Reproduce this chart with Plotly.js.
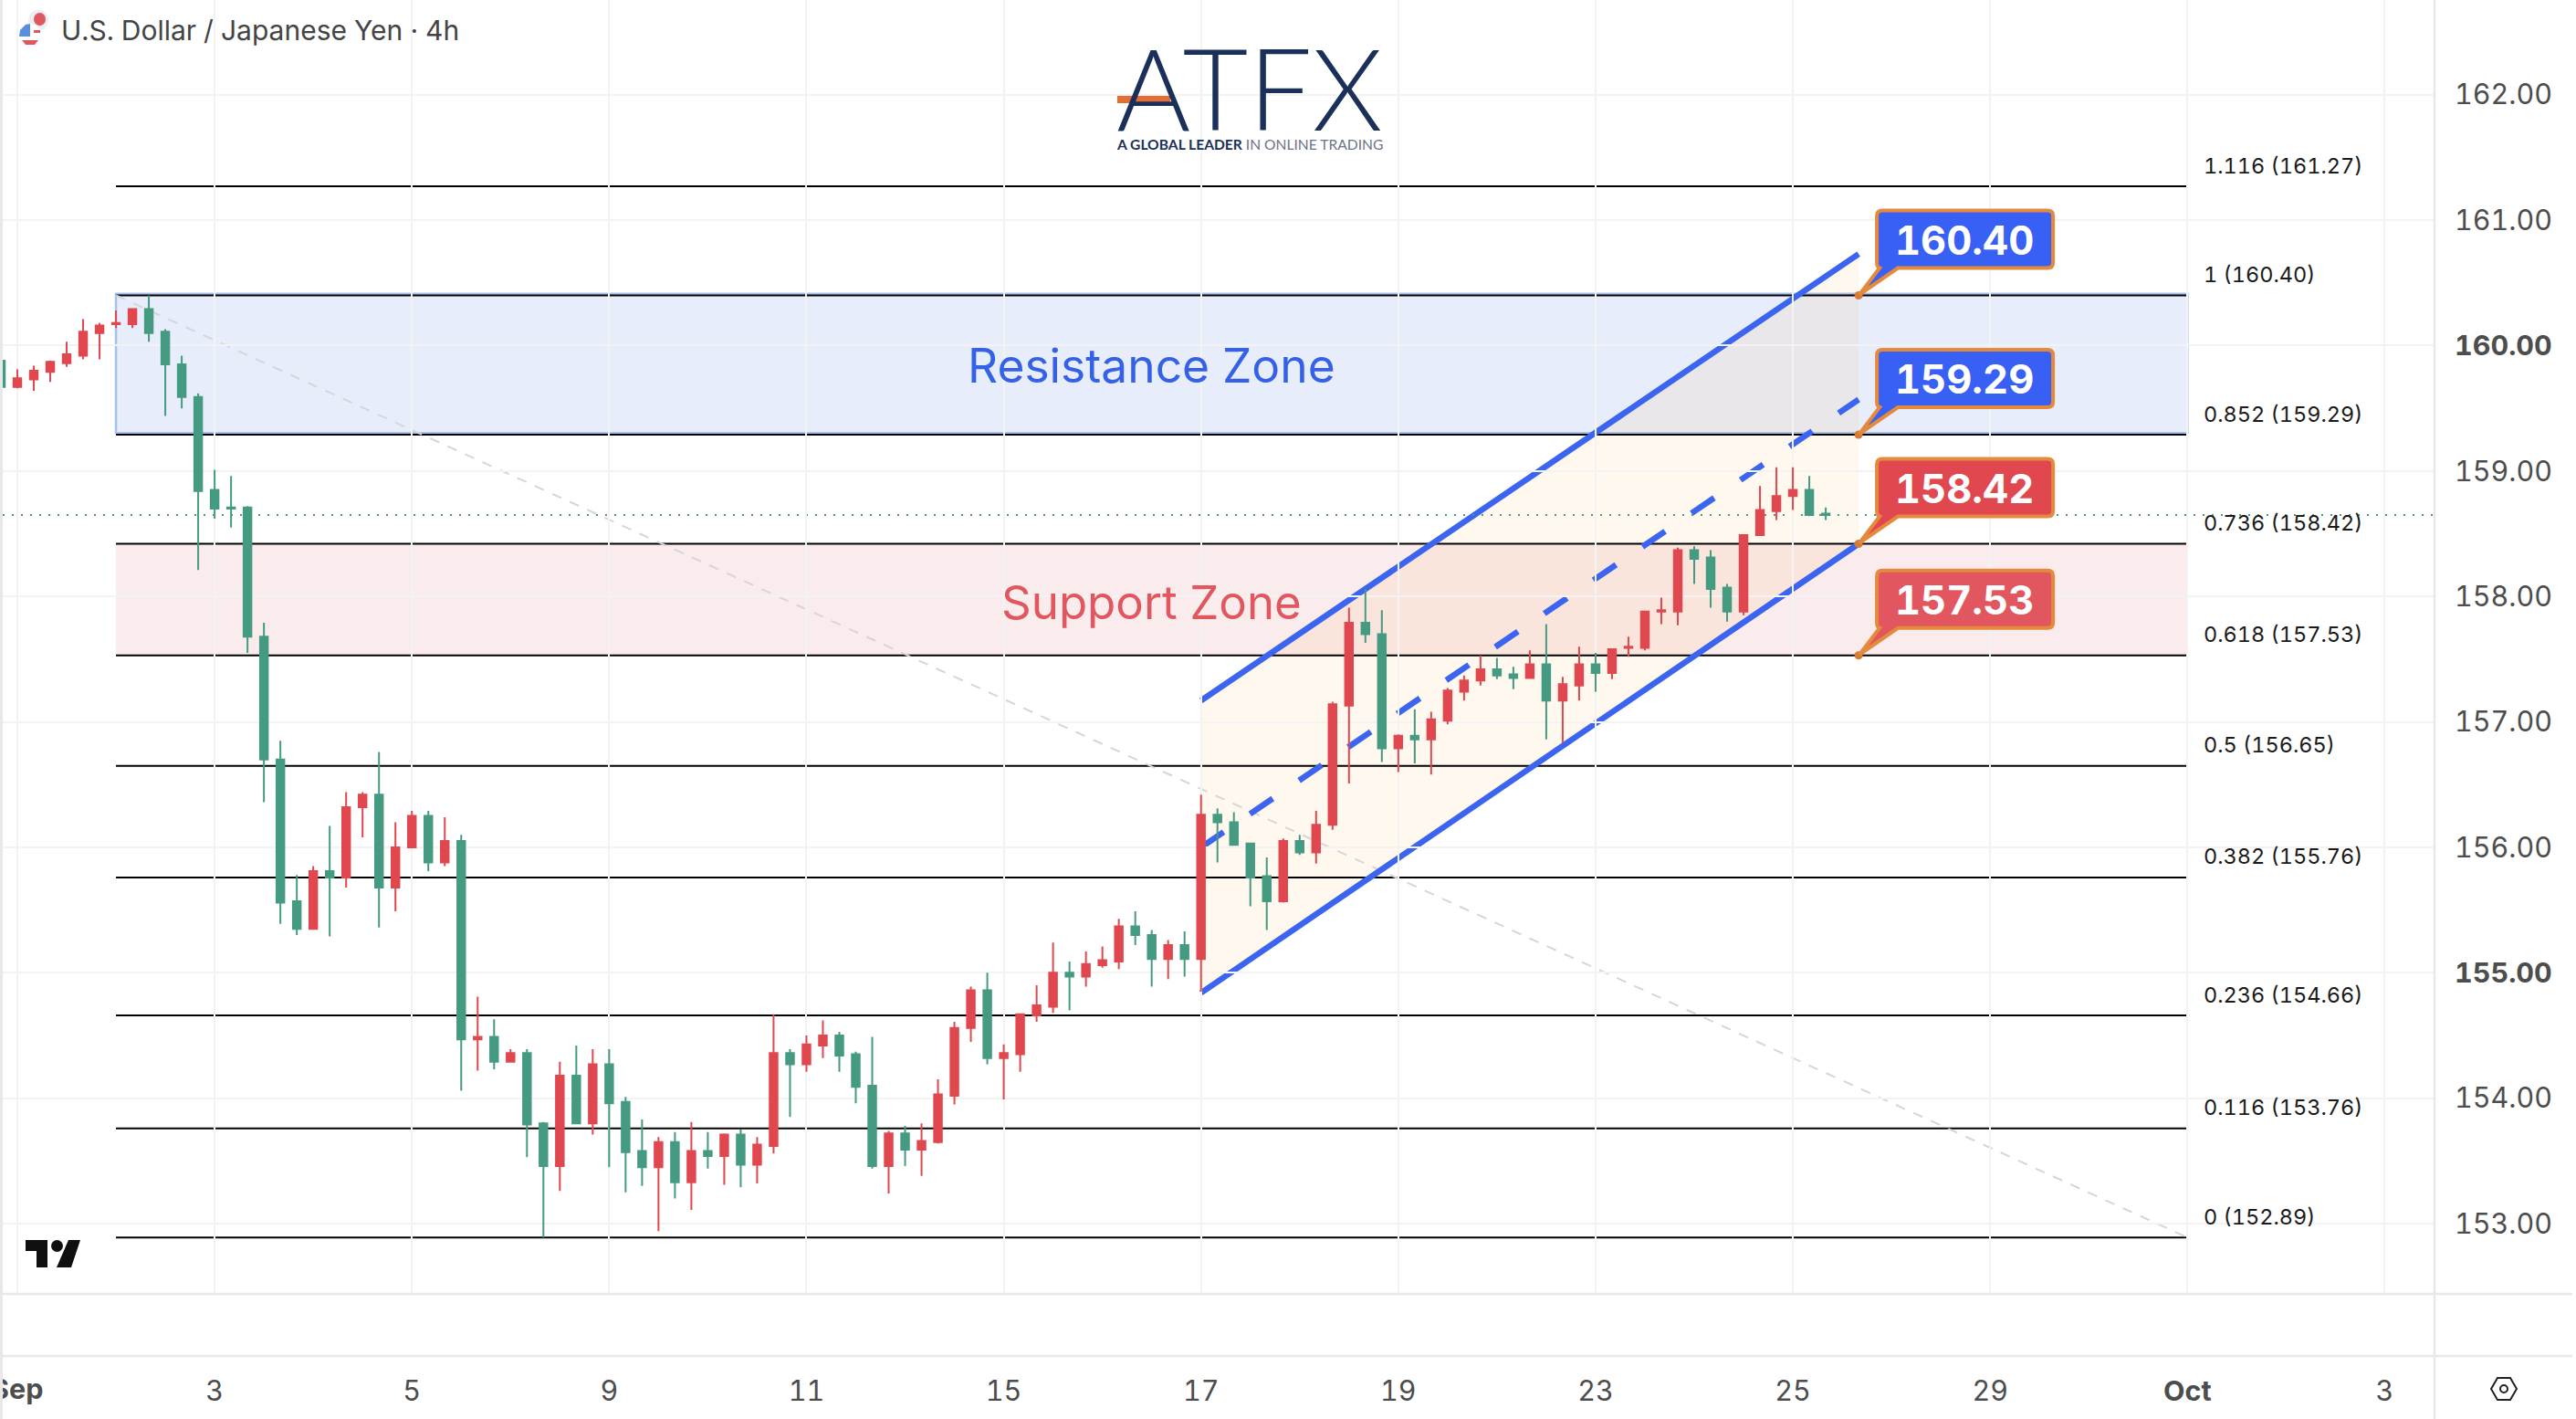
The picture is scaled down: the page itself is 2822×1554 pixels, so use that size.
<!DOCTYPE html>
<html>
<head>
<meta charset="utf-8">
<script src="https://cdn.plot.ly/plotly-3.0.1.min.js"></script>
<style>
html,body{margin:0;padding:0;background:#fff;overflow:hidden}
#chart{width:2822px;height:1554px}
/* the price labels in the reference use equal width digits. plotly measures text outside #chart so keep this global */
text{font-variant-numeric:tabular-nums !important;font-feature-settings:"tnum" 1 !important}
</style>
</head>
<body>
<div id="chart"></div>
<script>
// USD/JPY 4h candles. one entry per bar, starting at bar -1
var bar_start = -1;
var open_px = [159.88,159.67,159.73,159.79,159.86,159.92,160.10,160.17,160.17,160.29,160.11,159.85,159.59,158.85,158.71,158.71,157.68,156.70,155.57,155.35,155.81,155.76,156.32,156.42,155.68,156.00,156.25,155.88,156.05,154.47,154.49,154.29,154.36,153.80,153.46,154.18,153.80,154.27,153.97,153.58,153.45,153.65,153.33,153.58,153.54,153.71,153.47,153.62,154.36,154.27,154.42,154.50,154.35,154.10,153.46,153.72,153.59,153.65,154.02,154.56,154.86,154.32,154.35,154.66,154.73,155.00,154.97,155.06,155.09,155.37,155.30,155.11,155.22,155.11,156.26,156.20,156.03,155.77,155.57,156.05,155.96,156.18,157.13,157.79,157.70,156.79,156.89,156.86,157.01,157.24,157.33,157.42,157.38,157.35,157.46,157.17,157.29,157.46,157.39,157.59,157.59,157.88,157.88,158.37,158.31,158.07,157.88,158.49,158.68,158.80,158.85,158.66];
var high_px = [159.90,159.81,159.84,159.88,160.03,160.21,160.18,160.28,160.29,160.40,160.13,159.92,159.62,159.01,158.96,158.72,157.79,156.85,155.78,155.85,156.17,156.44,156.44,156.76,156.20,156.29,156.29,156.24,156.10,154.81,154.63,154.39,154.39,153.81,154.29,154.42,154.39,154.39,154.01,153.83,153.69,153.73,153.81,153.73,153.72,153.75,153.69,154.67,154.39,154.50,154.62,154.53,154.37,154.49,153.74,153.78,153.80,154.15,154.61,154.89,155.00,154.43,154.67,154.90,155.24,155.09,155.17,155.21,155.43,155.49,155.34,155.26,155.33,156.42,156.31,156.28,156.03,155.92,156.07,156.10,156.29,157.16,157.91,158.06,157.89,156.90,157.10,157.08,157.27,157.37,157.53,157.51,157.44,157.57,157.78,157.36,157.60,157.55,157.58,157.68,157.88,157.99,158.39,158.40,158.37,158.10,158.49,158.88,159.03,159.03,158.96,158.71];
var low_px = [159.65,159.66,159.64,159.71,159.83,159.89,159.89,160.14,160.14,160.03,159.44,159.50,158.21,158.62,158.55,157.55,156.36,155.39,155.30,155.35,155.29,155.68,156.08,155.36,155.49,156.00,155.81,155.85,154.06,154.22,154.23,154.29,153.53,152.89,153.26,153.80,153.71,153.45,153.25,153.30,152.94,153.20,153.11,153.44,153.31,153.29,153.32,153.56,153.85,154.21,154.32,154.21,153.96,153.44,153.24,153.46,153.38,153.64,153.95,154.45,154.27,153.99,154.21,154.61,154.68,154.70,154.89,155.04,155.03,155.22,154.89,154.95,154.97,154.85,155.88,156.02,155.53,155.34,155.56,155.94,155.87,156.14,156.51,157.63,156.68,156.60,156.67,156.58,156.98,157.17,157.29,157.34,157.26,157.35,156.86,156.83,157.17,157.24,157.34,157.52,157.57,157.78,157.77,158.10,157.91,157.80,157.85,158.49,158.61,158.69,158.64,158.61];
var close_px = [159.67,159.74,159.80,159.87,159.93,160.11,160.16,160.18,160.29,160.10,159.85,159.59,158.84,158.70,158.70,157.68,156.70,155.56,155.35,155.81,155.76,156.32,156.42,155.68,156.00,156.25,155.88,156.05,154.47,154.49,154.29,154.36,153.79,153.46,154.18,153.80,154.27,153.96,153.57,153.45,153.65,153.33,153.58,153.54,153.71,153.47,153.63,154.36,154.27,154.43,154.50,154.34,154.09,153.46,153.72,153.59,153.66,154.03,154.56,154.86,154.32,154.36,154.67,154.74,155.00,154.97,155.07,155.10,155.37,155.30,155.11,155.22,155.11,156.26,156.20,156.02,155.76,155.57,156.05,155.96,156.18,157.14,157.79,157.70,156.79,156.89,156.86,157.02,157.25,157.33,157.42,157.37,157.35,157.46,157.17,157.30,157.46,157.39,157.58,157.60,157.88,157.89,158.37,158.30,158.06,157.88,158.49,158.69,158.80,158.85,158.65,158.65];
var last_price = 158.65;

// fibonacci retracement
var fib_ratio = ['1.116','1','0.852','0.736','0.618','0.5','0.382','0.236','0.116','0'];
var fib_price = [161.27,160.40,159.29,158.42,157.53,156.65,155.76,154.66,153.76,152.89];
var fib_from = 6, fib_to = 132;

// channel
var chan_from = 72, chan_to = 112;
var chan_upper = [157.17,160.73];
var chan_mid = [156.00,159.57];
var chan_lower = [154.84,158.42];

// callouts
var call_price = [160.40,159.29,158.42,157.53];
var call_text = ['160.40','159.29','158.42','157.53'];
var call_fill = ['#3860f5','#3860f5','#e0474e','#e2575f'];

// axes
var y_ticks = [153,154,155,156,157,158,159,160,161,162];
var y_text = ['153.00','154.00','<b>155.00</b>','156.00','157.00','158.00','159.00','<b>160.00</b>','161.00','162.00'];
var x_ticks = [12,24,36,48,60,72,84,96,108,120,132,144];
var x_text = ['3','5','9','11','15','17','19','23','25','29','<b>Oct</b>','3'];
var x_grid0 = 0;

var x_range = [-0.888,147.03];
var y_range = [152.44,162.755];

var plot_w = 2664, plot_h = 1417, left_m = 3;
var UI_FONT = 'Inter, "Noto Sans", sans-serif';

function px_x(p){ return (p-left_m)/plot_w; }
function px_y(p){ return 1-p/plot_h; }
function paper_path(pts,close){
	var s = '';
	for (var i = 0; i < pts.length; i++){
		s += (i==0?'M ':' L ')+px_x(pts[i][0])+' '+px_y(pts[i][1]);
	}
	return s+(close?' Z':'');
}
function paper_box(x0,y0,x1,y1,color,type){
	return {type:type||'rect',xref:'paper',yref:'paper',layer:'above',x0:px_x(x0),x1:px_x(x1),y0:px_y(y0),y1:px_y(y1),
		fillcolor:color,line:{width:0}};
}
function panel_line(x0,y0,x1,y1){
	return {type:'line',xref:'paper',yref:'paper',layer:'above',x0:px_x(x0),x1:px_x(x1),y0:px_y(y0),y1:px_y(y1),
		line:{color:'#e8e8e8',width:2.5}};
}

var bars = [];
for (var i = 0; i < open_px.length; i++){ bars.push(bar_start+i); }

var candles = {
	type:'candlestick',
	x:bars, open:open_px, high:high_px, low:low_px, close:close_px,
	increasing:{line:{color:'#e0474e',width:2},fillcolor:'#e0474e'},
	decreasing:{line:{color:'#459a82',width:2},fillcolor:'#459a82'},
	whiskerwidth:0,
	hoverinfo:'skip',
	showlegend:false
};
var dots = {
	type:'scatter',mode:'markers',
	x:call_price.map(function(){return chan_to;}),y:call_price,
	marker:{color:'#d47b35',size:9},
	hoverinfo:'skip',showlegend:false
};

var shapes = [];
// first vertical grid line, its label sits outside the axis
shapes.push({type:'line',layer:'below',xref:'x',yref:'paper',x0:x_grid0,x1:x_grid0,y0:0,y1:1,line:{color:'#f3f3f4',width:2}});
// zones. the blue box sits a hair above the fib lines
shapes.push({type:'rect',layer:'below',xref:'x',yref:'y',x0:fib_from,x1:fib_to,y0:fib_price[2]+0.012,y1:fib_price[1]+0.012,
	fillcolor:'#e8edfb',line:{color:'#a6c1ee',width:2.5}});
shapes.push({type:'rect',layer:'below',xref:'x',yref:'y',x0:fib_from,x1:fib_to,y0:fib_price[4],y1:fib_price[3],
	fillcolor:'#faebec',line:{width:0}});
// channel fill
shapes.push({type:'path',layer:'below',xref:'x',yref:'y',
	path:'M '+chan_from+' '+chan_lower[0]+' L '+chan_from+' '+chan_upper[0]+' L '+chan_to+' '+chan_upper[1]+' L '+chan_to+' '+chan_lower[1]+' Z',
	fillcolor:'rgba(255,160,40,0.08)',line:{width:0}});
// fib lines
for (var i = 0; i < fib_price.length; i++){
	shapes.push({type:'line',layer:'below',xref:'x',yref:'y',x0:fib_from,x1:fib_to,y0:fib_price[i],y1:fib_price[i],
		line:{color:'#000',width:2}});
}
// fib trend line
shapes.push({type:'line',layer:'below',xref:'x',yref:'y',x0:fib_from,x1:fib_to,y0:fib_price[1],y1:fib_price[9],
	line:{color:'#d6d6da',width:2,dash:'11px,10px'}});
// channel lines
shapes.push({type:'line',layer:'below',xref:'x',yref:'y',x0:chan_from,x1:chan_to,y0:chan_upper[0],y1:chan_upper[1],line:{color:'#3b64f0',width:6.5}});
shapes.push({type:'line',layer:'below',xref:'x',yref:'y',x0:chan_from,x1:chan_to,y0:chan_lower[0],y1:chan_lower[1],line:{color:'#3b64f0',width:6.5}});
shapes.push({type:'line',layer:'below',xref:'x',yref:'y',x0:chan_from,x1:chan_to,y0:chan_mid[0],y1:chan_mid[1],line:{color:'#3b64f0',width:6.5,dash:'30px,35px'}});
// last price
shapes.push({type:'line',layer:'below',xref:'x',yref:'y',x0:x_range[0],x1:x_range[1],y0:last_price,y1:last_price,
	line:{color:'#459a82',width:2,dash:'2px,8px'}});
// callout boxes, path is in pixels from the anchor point
for (var i = 0; i < call_price.length; i++){
	shapes.push({type:'path',layer:'above',xref:'x',yref:'y',xsizemode:'pixel',ysizemode:'pixel',
		xanchor:chan_to,yanchor:call_price[i],
		path:'M 26 93 L 207 93 Q 213 93 213 87 L 213 36 Q 213 30 207 30 L 43 30 L 1 1 L 23 30 Q 20 31 20 36 L 20 87 Q 20 93 26 93 Z',
		fillcolor:call_fill[i],line:{color:'#e58a3d',width:4}});
}
// panel borders
shapes.push(panel_line(3,1417,2818,1417));
shapes.push(panel_line(3,1485,2818,1485));
shapes.push(panel_line(2667,0,2667,1554));
// flag
shapes.push(paper_box(31,11,53,33,'#eceef3','circle'));
shapes.push(paper_box(37,14,50,28,'#e0575f','circle'));
shapes.push(paper_box(21,26,45,50,'#ffffff','circle'));
shapes.push({type:'path',xref:'paper',yref:'paper',layer:'above',fillcolor:'#e0575f',line:{width:0},
	path:paper_path([[24,44],[42,44],[38,49],[28,49]],true)});
shapes.push({type:'path',xref:'paper',yref:'paper',layer:'above',fillcolor:'#5a8fe0',line:{width:0},
	path:paper_path([[28,27],[33,26],[33,40],[21,40],[22,33]],true)});
shapes.push(paper_box(37,33,44,36,'#e0575f'));
// logo bar
shapes.push(paper_box(1224,105,1282,113,'#e36d32'));
// tradingview mark
shapes.push({type:'path',xref:'paper',yref:'paper',layer:'above',fillcolor:'#0f0f0f',line:{width:0},
	path:paper_path([[28,1358],[52,1358],[52,1388],[40,1388],[40,1370],[28,1370]],true)});
shapes.push(paper_box(56,1358,69,1371,'#0f0f0f','circle'));
shapes.push({type:'path',xref:'paper',yref:'paper',layer:'above',fillcolor:'#0f0f0f',line:{width:0},
	path:paper_path([[75,1358],[88,1358],[78,1388],[62,1388]],true)});
// settings icon
shapes.push({type:'path',xref:'paper',yref:'paper',layer:'above',line:{color:'#222',width:2},
	path:paper_path([[2729,1521],[2736,1509],[2750,1509],[2757,1521],[2750,1533],[2736,1533]],true)});
shapes.push({type:'circle',xref:'paper',yref:'paper',layer:'above',x0:px_x(2739),x1:px_x(2747),y0:px_y(1517),y1:px_y(1525),
	line:{color:'#222',width:2}});

var notes = [];
for (var i = 0; i < fib_price.length; i++){
	notes.push({xref:'x',yref:'y',x:fib_to,y:fib_price[i],xanchor:'left',yanchor:'middle',xshift:16,yshift:23,showarrow:false,
		text:fib_ratio[i]+' ('+fib_price[i].toFixed(2)+')',font:{family:UI_FONT,size:23.5,color:'#1a1a1a'}});
}
for (var i = 0; i < call_price.length; i++){
	notes.push({xref:'x',yref:'y',x:chan_to,y:call_price[i],xanchor:'center',yanchor:'middle',xshift:116,yshift:61,showarrow:false,
		text:'<b>'+call_text[i]+'</b>',font:{family:UI_FONT,size:43.5,color:'#fff'}});
}
notes.push({xref:'x',yref:'y',x:(fib_from+fib_to)/2,y:(fib_price[1]+fib_price[2])/2,showarrow:false,
	text:'Resistance Zone',font:{family:UI_FONT,size:51.5,color:'#3461e8'}});
notes.push({xref:'x',yref:'y',x:(fib_from+fib_to)/2,y:(fib_price[3]+fib_price[4])/2,yshift:-3,showarrow:false,
	text:'Support Zone',font:{family:UI_FONT,size:51,color:'#e0575f'}});
notes.push({xref:'paper',yref:'paper',x:px_x(65),y:px_y(33),xanchor:'left',yanchor:'middle',showarrow:false,
	text:'U.S. Dollar / Japanese Yen · 4h',font:{family:UI_FONT,size:30,color:'#444'}});
notes.push({xref:'paper',yref:'paper',x:px_x(1369),y:px_y(95),xanchor:'center',yanchor:'middle',showarrow:false,
	text:'ATFX',font:{family:'Lato, sans-serif',size:124,weight:300,color:'#1a2f5a'}});
notes.push({xref:'paper',yref:'paper',x:px_x(1369),y:px_y(158),xanchor:'center',yanchor:'middle',showarrow:false,
	text:'<b>A GLOBAL LEADER</b> <span style="color:#6b7488">IN ONLINE TRADING</span>',font:{family:'Lato, sans-serif',size:15.6,color:'#1a2f5a'}});
// plotly drops a tick label that runs off the page, so this one is a note
notes.push({xref:'paper',yref:'paper',x:px_x(49),y:px_y(1520),xanchor:'right',yanchor:'middle',showarrow:false,
	text:'<b>Sep</b>',font:{family:UI_FONT,size:30.5,color:'#4d4d4d'}});

var layout = {
	width:2822,height:1554,
	margin:{l:left_m,r:155,t:0,b:137,pad:0},
	paper_bgcolor:'#fff',plot_bgcolor:'#fff',
	boxgap:0.33,
	showlegend:false,
	xaxis:{
		type:'linear',range:x_range,fixedrange:true,
		tickmode:'array',tickvals:x_ticks,ticktext:x_text,
		showgrid:true,gridcolor:'#f3f3f4',gridwidth:2,zeroline:false,showline:false,ticks:'',
		ticklabelstandoff:85,
		tickfont:{family:UI_FONT,size:30.5,color:'#4d4d4d'},
		rangeslider:{visible:false}
	},
	yaxis:{
		side:'right',range:y_range,fixedrange:true,
		tickmode:'array',tickvals:y_ticks,ticktext:y_text,
		showgrid:true,gridcolor:'#f3f3f4',gridwidth:2,zeroline:false,showline:false,ticks:'',
		ticklabelstandoff:21,
		tickfont:{family:UI_FONT,size:30.5,color:'#4d4d4d'}
	},
	shapes:shapes,
	annotations:notes
};

Plotly.newPlot('chart',[candles,dots],layout,{displayModeBar:false,staticPlot:true}).then(function(){
	// left border goes over the Sep label
	var border = document.createElement('div');
	border.style.cssText = 'position:absolute;left:0;top:0;width:3px;height:1554px;background:#e8e8e8';
	document.body.appendChild(border);
});
</script>
</body>
</html>
